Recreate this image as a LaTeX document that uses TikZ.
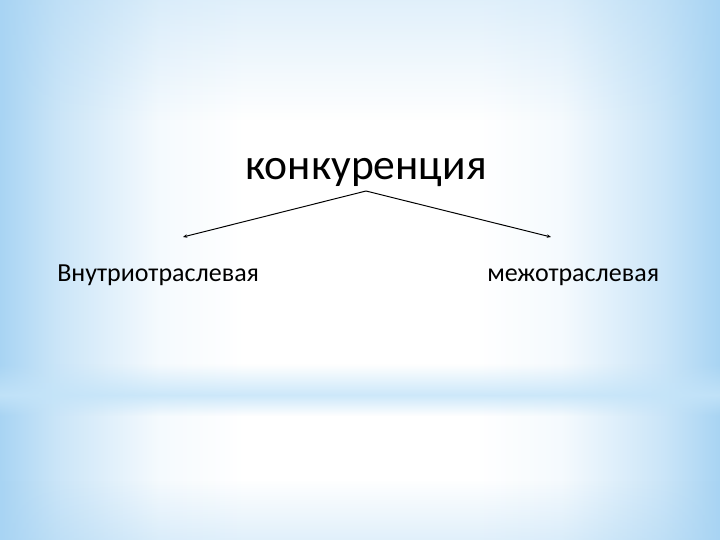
\documentclass[tikz,border=0pt]{standalone}
\usepackage{fontspec}
\setmainfont{Carlito}
\usepackage{tikz}
\usetikzlibrary{arrows.meta, positioning, fadings}
\usepackage{xcolor}

\definecolor{edgeblue}{RGB}{168,212,243}
\definecolor{bandblue}{RGB}{196,228,249}
\pgfdeclarehorizontalshading{bgside}{100bp}{color(0bp)=(edgeblue); color(25bp)=(edgeblue); color(29bp)=(edgeblue!60); color(36bp)=(edgeblue!12); color(42bp)=(white); color(58bp)=(white); color(64bp)=(edgeblue!12); color(71bp)=(edgeblue!60); color(75bp)=(edgeblue); color(100bp)=(edgeblue)}

\tikzset{
  branch/.style={-{Stealth[length=3pt,width=2.5pt]}, line width=0.7pt},
  kind/.style={font=\fontsize{18.5}{20}\selectfont, inner sep=0pt}
}

\begin{document}
\begin{tikzpicture}
        % background
        \useasboundingbox (0,0) rectangle (18,13.5);
        \shade[shading=bgside] (0,0) rectangle (18,13.5);
        \fill[edgeblue, path fading=south, opacity=0.35] (0,10.5) rectangle (18,13.5);
        \fill[edgeblue, path fading=north, opacity=0.35] (0,0) rectangle (18,1.5);
        \fill[bandblue, path fading=north, opacity=0.85] (0,3.625) rectangle (18,4.4);
        \fill[bandblue, path fading=south, opacity=0.85] (0,3.1) rectangle (18,3.625);

        \node[font=\fontsize{31}{33}\selectfont, inner sep=0pt, anchor=base] (top) at (9.15, 9.0) {конкуренция};
        \node[kind, anchor=base west] (inner) at (1.425, 6.45) {Внутриотраслевая};
        \node[kind, anchor=base west] (inter) at (12.175, 6.45) {межотраслевая};

        \coordinate (apex) at (9.15, 8.725);
        \coordinate (lend) at (4.575, 7.575);
        \coordinate (rend) at (13.775, 7.575);

        \draw[branch] (apex) -- (lend);
        \draw[branch] (apex) -- (rend);
    \end{tikzpicture}
\end{document}
